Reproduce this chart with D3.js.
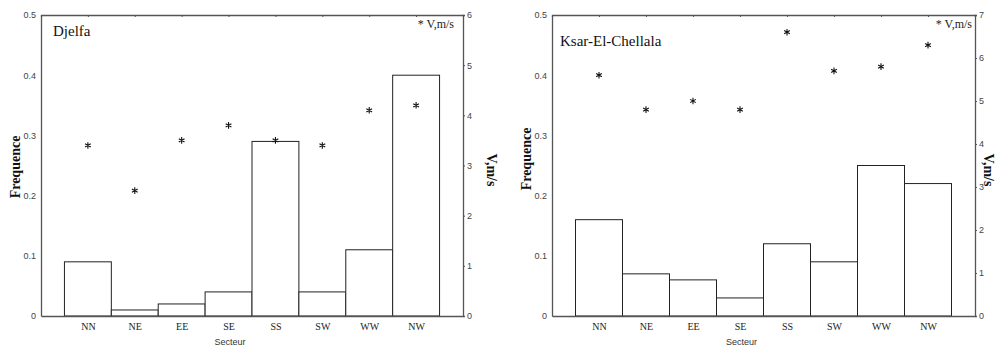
<!DOCTYPE html>
<html>
<head>
<meta charset="utf-8">
<script src="https://cdn.jsdelivr.net/npm/d3@7"></script>
<style>
  body { margin: 0; background: #fff; }
  .tick-sans text { font-family: "Liberation Sans", Arial, sans-serif; font-size: 9px; fill: #444; }
  .tick-serif text { font-family: "Liberation Serif", "Times New Roman", serif; font-size: 10px; fill: #222; }
  .domain { stroke: #555; stroke-width: 1.3; }
  .tick line { stroke: #555; }
</style>
</head>
<body>
<div id="chart"></div>
<script>
// DATA
const sectors = ["NN", "NE", "EE", "SE", "SS", "SW", "WW", "NW"];
// Djelfa
const djelfaFreq = [0.09, 0.01, 0.02, 0.04, 0.29, 0.04, 0.11, 0.40];
const djelfaSpeed = [3.4, 2.5, 3.5, 3.8, 3.5, 3.4, 4.1, 4.2];
// Ksar-El-Chellala
const ksarFreq = [0.16, 0.07, 0.06, 0.03, 0.12, 0.09, 0.25, 0.22];
const ksarSpeed = [5.6, 4.8, 5.0, 4.8, 6.6, 5.7, 5.8, 6.3];
const freqTicks = [0, 0.1, 0.2, 0.3, 0.4, 0.5];

// 1: BLANK SVG
const W = 996, H = 352;
const svg = d3.select("#chart").append("svg")
    .attr("width", W)
    .attr("height", H);

const top_ = 15, bottom = 316;

// 2: ONE PANEL PER STATION
function drawPanel(p) {
    const g = svg.append("g");

    // scales
    const x = d3.scaleLinear().domain([0, 9]).range([p.left, p.right]);
    const yF = d3.scaleLinear().domain([0, 0.5]).range([bottom, top_]);
    const yV = d3.scaleLinear().domain([0, p.vMax]).range([bottom, top_]);
    const bw = x(1) - x(0);

    // bars (frequence)
    g.selectAll("rect.bar")
        .data(p.freq)
        .enter()
        .append("rect")
        .attr("class", "bar")
        .attr("x", (d, i) => x(i + 0.5))
        .attr("y", d => yF(d))
        .attr("width", bw)
        .attr("height", d => yF(0) - yF(d))
        .attr("fill", "#fff")
        .attr("stroke", "#222")
        .attr("stroke-width", 1);

    // top frame line with small inward ticks
    g.append("g")
        .attr("transform", `translate(0,${top_})`)
        .call(d3.axisTop(x).tickValues(d3.range(1, 9)).tickSize(-2).tickFormat(""));

    // bottom axis (sectors)
    g.append("g")
        .attr("class", "tick-serif")
        .attr("transform", `translate(0,${bottom})`)
        .call(d3.axisBottom(x).tickValues(d3.range(1, 9)).tickSize(0).tickPadding(7)
            .tickFormat(d => sectors[d - 1]));

    // left axis (frequence)
    g.append("g")
        .attr("class", "tick-sans")
        .attr("transform", `translate(${p.left},0)`)
        .call(d3.axisLeft(yF).tickValues(freqTicks).tickSize(0).tickPadding(5)
            .tickFormat(d => d === 0 ? "0" : d3.format(".1f")(d)));

    // right axis (speed)
    g.append("g")
        .attr("class", "tick-sans")
        .attr("transform", `translate(${p.right},0)`)
        .call(d3.axisRight(yV).ticks(p.vMax).tickSize(2).tickPadding(2)
            .tickFormat(d3.format("d")));

    // speed markers
    g.selectAll("path.star")
        .data(p.speed)
        .enter()
        .append("path")
        .attr("class", "star")
        .attr("d", d3.symbol().type(d3.symbolAsterisk).size(30))
        .attr("transform", (d, i) => `translate(${x(i + 1)},${yV(d)})`)
        .attr("fill", "none")
        .attr("stroke", "#111")
        .attr("stroke-width", 1.1);

    // station name
    g.append("text")
        .attr("x", p.left + p.titleDx)
        .attr("y", p.titleY)
        .attr("font-family", "Liberation Serif, Times New Roman, serif")
        .attr("font-size", 15)
        .attr("fill", "#111")
        .text(p.title);

    // legend
    g.append("text")
        .attr("x", p.right - p.legendDx)
        .attr("y", 28)
        .attr("text-anchor", "end")
        .attr("font-family", "Liberation Serif, Times New Roman, serif")
        .attr("font-size", 12)
        .attr("fill", "#222")
        .text("* V,m/s");

    // axis titles
    g.append("text")
        .attr("transform", `translate(${p.left - 21},${p.freqLabelY}) rotate(-90)`)
        .attr("text-anchor", "middle")
        .attr("font-family", "Liberation Serif, Times New Roman, serif")
        .attr("font-weight", "bold")
        .attr("font-size", 14)
        .attr("fill", "#111")
        .text("Frequence");

    g.append("text")
        .attr("transform", `translate(${p.right + p.vLabelDx},170) rotate(90)`)
        .attr("text-anchor", "middle")
        .attr("font-family", "Liberation Serif, Times New Roman, serif")
        .attr("font-weight", "bold")
        .attr("font-size", 14)
        .attr("fill", "#111")
        .text("V,m/s");

    g.append("text")
        .attr("x", (p.left + p.right) / 2 - 22)
        .attr("y", 345)
        .attr("text-anchor", "middle")
        .attr("font-family", "Liberation Sans, Arial, sans-serif")
        .attr("font-size", 9)
        .attr("fill", "#333")
        .text("Secteur");
}

drawPanel({ title: "Djelfa", freq: djelfaFreq, speed: djelfaSpeed, vMax: 6,
            left: 41, right: 463, titleDx: 12, titleY: 36, legendDx: 9,
            freqLabelY: 167, vLabelDx: 24 });
drawPanel({ title: "Ksar-El-Chellala", freq: ksarFreq, speed: ksarSpeed, vMax: 7,
            left: 552, right: 975, titleDx: 8, titleY: 46, legendDx: 3,
            freqLabelY: 159, vLabelDx: 9 });
</script>
</body>
</html>
